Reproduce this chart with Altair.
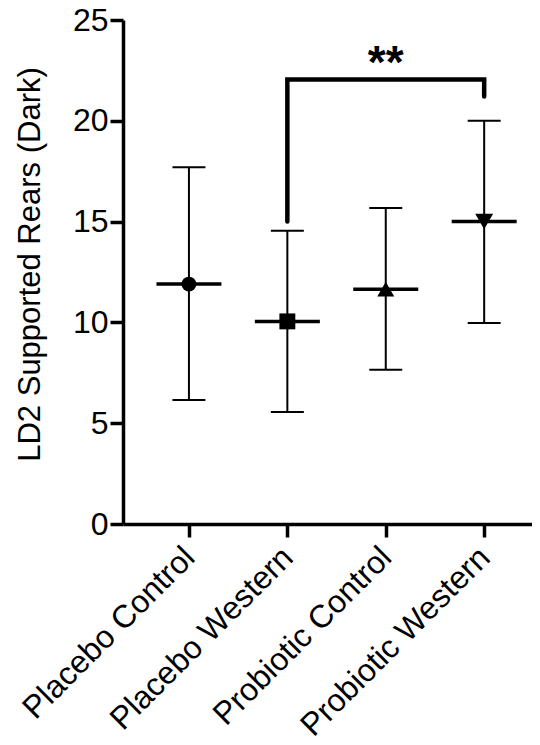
import json
import altair as alt
import pandas as pd

# ---- data ----
groups = ["Placebo Control", "Placebo Western", "Probiotic Control", "Probiotic Western"]
positions = [0, 1, 2, 3]
means = [11.9, 10.05, 11.65, 15.0]
lower = [6.15, 5.55, 7.65, 9.97]
upper = [17.7, 14.55, 15.67, 20.0]
shapes = ["circle", "square", "triangle-up", "triangle-down"]

bracket_x = [1, 1, 3, 3]
bracket_y = [15.0, 22.05, 22.05, 21.2]
bracket_order = [0, 1, 2, 3]
sig_text = ["**"]
sig_x = [2]
sig_y = [22.1]
y_ticks = [0, 5, 10, 15, 20, 25]

df = pd.DataFrame({"pos": positions, "group": groups, "mean": means,
                   "lo": lower, "hi": upper, "shape": shapes})
caps = pd.DataFrame({"pos": positions * 2, "v": lower + upper})
br = pd.DataFrame({"x": bracket_x, "y": bracket_y, "o": bracket_order})
sig = pd.DataFrame({"x": sig_x, "y": sig_y, "t": sig_text})

FONT = "Liberation Sans"
label_expr = json.dumps(groups) + "[datum.value]"

xscale = alt.Scale(domain=[-0.67, 3.486], nice=False, zero=False)
yscale = alt.Scale(domain=[0, 25], nice=False)

x_axis = alt.Axis(values=positions, labelExpr=label_expr, title=None, grid=False,
                  labelAngle=-45, labelAlign="right", labelBaseline="middle",
                  labelFont=FONT, labelFontSize=32, labelColor="black", labelLimit=600,
                  labelOverlap=False, labelPadding=15, labelOffset=0,
                  tickSize=13, tickWidth=3.5, tickColor="black",
                  domainColor="black", domainWidth=3.5)
y_axis = alt.Axis(values=y_ticks, title="LD2 Supported Rears (Dark)", grid=False,
                  labelFont=FONT, labelFontSize=32, labelColor="black", labelPadding=2,
                  labelOverlap=False,
                  tickSize=13, tickWidth=3.5, tickColor="black",
                  domainColor="black", domainWidth=3.5,
                  titleFont=FONT, titleFontSize=31, titleFontWeight="normal", titleColor="black",
                  titleAngle=270, titleX=-93, titleY=244, titleAlign="center",
                  titleBaseline="middle")

X = alt.X("pos:Q", scale=xscale, axis=x_axis)

err = alt.Chart(df).mark_rule(color="black", strokeWidth=2).encode(
    x=X, y=alt.Y("lo:Q", scale=yscale, axis=y_axis), y2="hi:Q")

cap = alt.Chart(caps).mark_tick(orient="horizontal", size=33, thickness=2, color="black",
                                opacity=1).encode(
    x=alt.X("pos:Q", scale=xscale), y=alt.Y("v:Q", scale=yscale))

mean_line = alt.Chart(df).mark_tick(orient="horizontal", size=65, thickness=3.5, color="black",
                                    opacity=1).encode(
    x=alt.X("pos:Q", scale=xscale), y=alt.Y("mean:Q", scale=yscale))

pts = alt.Chart(df).mark_point(filled=True, color="black", opacity=1).encode(
    x=alt.X("pos:Q", scale=xscale), y=alt.Y("mean:Q", scale=yscale),
    shape=alt.Shape("shape:N", scale=None),
    size=alt.Size("shape:N", scale=alt.Scale(domain=shapes, range=[220, 320, 240, 240]), legend=None))

bracket = alt.Chart(br).mark_line(color="black", strokeWidth=4.5, strokeCap="round",
                                  strokeJoin="miter").encode(
    x=alt.X("x:Q", scale=xscale), y=alt.Y("y:Q", scale=yscale), order="o:Q")

stars = alt.Chart(sig).mark_text(font=FONT, fontSize=46, fontWeight="bold", color="black",
                                 baseline="alphabetic", align="center").encode(
    x=alt.X("x:Q", scale=xscale), y=alt.Y("y:Q", scale=yscale), text="t:N")

chart = alt.layer(err, cap, mean_line, pts, bracket, stars).properties(
    width=409, height=504,
    autosize=alt.AutoSizeParams(type="none"),
    padding={"left": 115, "top": 12, "right": 0, "bottom": 213},
).configure_view(strokeWidth=0)

chart.save("out.html", embed_options={"renderer": "svg", "actions": False})
